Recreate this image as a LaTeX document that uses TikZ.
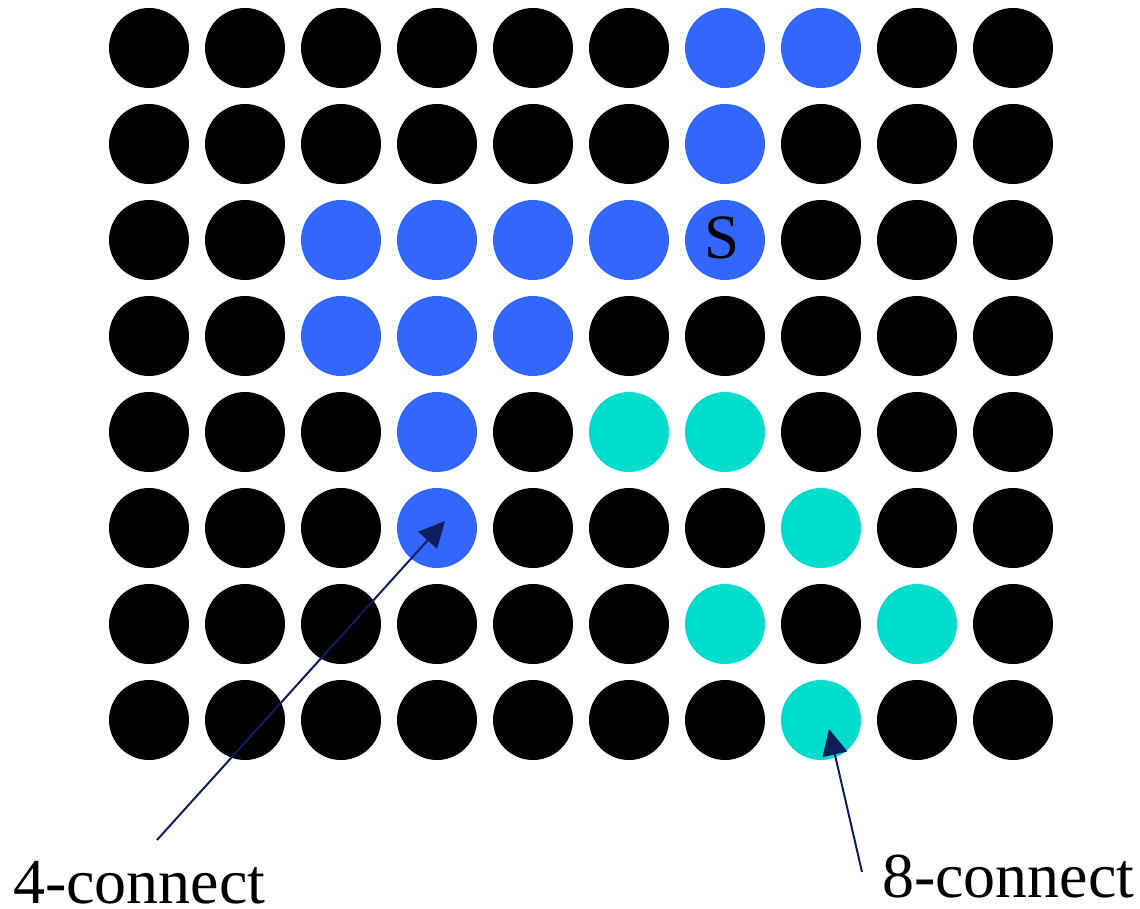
\documentclass[tikz,border=0pt]{standalone}
\usepackage{fontspec}
\setmainfont{Liberation Serif}
\usetikzlibrary{arrows.meta}

\definecolor{pixblue}{RGB}{51,102,255}
\definecolor{pixcyan}{RGB}{0,221,204}
\definecolor{pointer}{RGB}{12,30,92}

\tikzset{
  pixel/.style={circle, fill=black, minimum size=80pt, inner sep=0pt},
  label text/.style={font=\fontsize{64}{72}\selectfont, inner sep=0pt},
  pointer line/.style={draw=pointer, line width=2pt, -{Triangle[length=26pt, width=25pt]}},
  % region reached from S
  cell 0-6/.style={fill=pixblue}, cell 0-7/.style={fill=pixblue},
  cell 1-6/.style={fill=pixblue},
  cell 2-2/.style={fill=pixblue}, cell 2-3/.style={fill=pixblue},
  cell 2-4/.style={fill=pixblue}, cell 2-5/.style={fill=pixblue},
  cell 2-6/.style={fill=pixblue},
  cell 3-2/.style={fill=pixblue}, cell 3-3/.style={fill=pixblue},
  cell 3-4/.style={fill=pixblue},
  cell 4-3/.style={fill=pixblue}, cell 5-3/.style={fill=pixblue},
  % extra cells for 8-connectivity
  cell 4-5/.style={fill=pixcyan}, cell 4-6/.style={fill=pixcyan},
  cell 5-7/.style={fill=pixcyan}, cell 6-6/.style={fill=pixcyan},
  cell 6-8/.style={fill=pixcyan}, cell 7-7/.style={fill=pixcyan}
}

\begin{document}
\begin{tikzpicture}[x=1pt, y=-1pt]
  \useasboundingbox (0, 0) rectangle (1140, 909);

  \foreach \r in {0,...,7}
    \foreach \c in {0,...,9}
      \node[pixel, cell \r-\c/.try] (c-\r-\c) at (149 + 96*\c, 48 + 96*\r) {};

  \node[font=\fontsize{63}{70}\selectfont, inner sep=0pt] (seed) at ([shift={(-3, -2)}]c-2-6.center) {S};

  \node[label text, anchor=base west] (four) at (13, 903) {4-connect};
  \node[label text, anchor=base west] (eight) at (882, 897) {8-connect};

  \coordinate (four start) at (157, 840);
  \coordinate (eight start) at (862, 872);
  \draw[pointer line] (four start) -- ([shift={(8, -7)}]c-5-3.center);
  \draw[pointer line] (eight start) -- ([shift={(8, 9)}]c-7-7.center);
\end{tikzpicture}
\end{document}
